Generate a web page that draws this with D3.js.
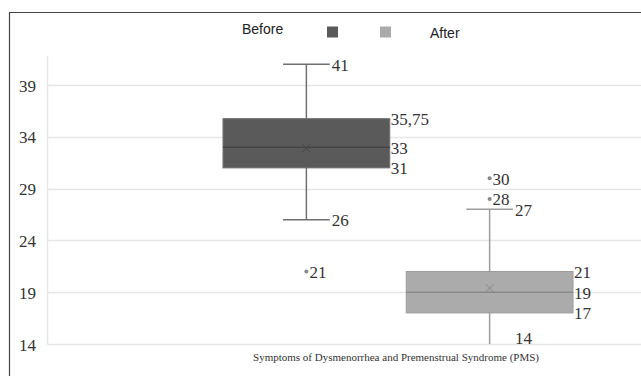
<!DOCTYPE html>
<html>
<head>
<meta charset="utf-8">
<script src="https://cdn.jsdelivr.net/npm/d3@7"></script>
<style>
  body { margin: 0; background: #fff; }
  svg { display: block; }
</style>
</head>
<body>
<script>
"use strict"

// Box plot summary
const groups      = ["Before", "After"]
const whiskerLow  = [26, 14]
const q1          = [31, 17]
const median      = [33, 19]
const q3          = [35.75, 21]
const whiskerHigh = [41, 27]
const means       = [32.9, 19.4]
const outliers    = [[21], [28, 30]]
const yTicks      = [14, 19, 24, 29, 34, 39]
const fills       = ["#5a5a5a", "#ababab"]
const strokes     = ["#707070", "#9c9c9c"]
const title       = "Symptoms of Dysmenorrhea and Premenstrual Syndrome (PMS)"

const fmt = v => String(v).replace(".", ",")

const width = 641, height = 376
const root = d3.select("body").append("svg").attr("width", width).attr("height", height)

const y = d3.scaleLinear().domain([14, 39]).range([344, 85])
const x = d3.scaleBand().domain(groups).range([223, 573]).paddingInner(0.09)
const plotLeft = 47

// frame
root.append("path")
  .attr("d", `M9.5,${height} V12.5 H${width}`)
  .attr("fill", "none").attr("stroke", "#444").attr("stroke-width", 1.2)

// gridlines + vertical axis line
root.append("g").selectAll("line").data(yTicks).join("line")
  .attr("x1", plotLeft).attr("x2", width)
  .attr("y1", d => Math.round(y(d)) + 0.5).attr("y2", d => Math.round(y(d)) + 0.5)
  .attr("stroke", "#e6e6e6").attr("stroke-width", 1.5)
root.append("line")
  .attr("x1", plotLeft + 0.5).attr("x2", plotLeft + 0.5)
  .attr("y1", 56).attr("y2", y(14))
  .attr("stroke", "#e6e6e6").attr("stroke-width", 1.5)

// tick labels
root.append("g").selectAll("text").data(yTicks).join("text")
  .attr("x", 36).attr("y", d => y(d) + 1)
  .attr("text-anchor", "end").attr("dominant-baseline", "central")
  .attr("font-family", "Liberation Serif, serif").attr("font-size", 17)
  .attr("fill", "#333").text(d => d)

// boxes
const rows = groups.map((g, i) => ({
  g, i, lo: whiskerLow[i], q1: q1[i], med: median[i], q3: q3[i], hi: whiskerHigh[i], mean: means[i], out: outliers[i],
}))

const bw = x.bandwidth()
const capW = bw * 0.28
const box = root.append("g").selectAll("g").data(rows).join("g")

box.append("line")
  .attr("x1", d => x(d.g) + bw / 2).attr("x2", d => x(d.g) + bw / 2)
  .attr("y1", d => y(d.lo)).attr("y2", d => y(d.hi))
  .attr("stroke", d => strokes[d.i]).attr("stroke-width", 1.5)
box.selectAll(".cap").data(d => [d.lo, d.hi].filter(v => v > 14).map(v => ({ v, d }))).join("line")
  .attr("class", "cap")
  .attr("x1", ({ d }) => x(d.g) + bw / 2 - capW / 2).attr("x2", ({ d }) => x(d.g) + bw / 2 + capW / 2)
  .attr("y1", ({ v }) => y(v)).attr("y2", ({ v }) => y(v))
  .attr("stroke", ({ d }) => strokes[d.i]).attr("stroke-width", 1.5)
box.append("rect")
  .attr("x", d => x(d.g)).attr("width", bw)
  .attr("y", d => y(d.q3)).attr("height", d => y(d.q1) - y(d.q3))
  .attr("fill", d => fills[d.i]).attr("stroke", d => strokes[d.i]).attr("stroke-width", 1)
box.append("line")
  .attr("x1", d => x(d.g)).attr("x2", d => x(d.g) + bw)
  .attr("y1", d => y(d.med)).attr("y2", d => y(d.med))
  .attr("stroke", (d, i) => i === 0 ? "#444" : "#8a8a8a").attr("stroke-width", 1.5)
box.append("path")
  .attr("d", d => {
    const cx = x(d.g) + bw / 2, cy = y(d.mean), r = 4
    return `M${cx - r},${cy - r}L${cx + r},${cy + r}M${cx - r},${cy + r}L${cx + r},${cy - r}`
  })
  .attr("stroke", (d, i) => i === 0 ? "#444" : "#8a8a8a").attr("stroke-width", 1)

// outliers
const out = box.selectAll(".out").data(d => d.out.map(v => ({ v, d }))).join("g").attr("class", "out")
out.append("circle")
  .attr("cx", ({ d }) => x(d.g) + bw / 2).attr("cy", ({ v }) => y(v))
  .attr("r", 2).attr("fill", "#888")

// value labels
const valueFont = sel => sel
  .attr("font-family", "Liberation Serif, serif").attr("font-size", 17)
  .attr("fill", "#333").attr("dominant-baseline", "central")

out.append("text")
  .attr("x", ({ d }) => x(d.g) + bw / 2 + 3).attr("y", ({ v }) => y(v) + 1)
  .call(valueFont).text(({ v }) => v)

box.selectAll(".whisk-label").data(d => [d.lo, d.hi].map(v => ({ v, d }))).join("text")
  .attr("class", "whisk-label")
  .attr("x", ({ d }) => x(d.g) + bw / 2 + capW / 2 + 2)
  .attr("y", ({ v }) => Math.min(y(v) + 1, y(14) - 6))
  .call(valueFont).text(({ v }) => fmt(v))

box.selectAll(".box-label").data(d => [d.q3, d.med, d.q1].map(v => ({ v, d }))).join("text")
  .attr("class", "box-label")
  .attr("x", ({ d }) => x(d.g) + bw + 1)
  .attr("y", ({ v }) => y(v) + 1)
  .call(valueFont).text(({ v }) => fmt(v))

// legend
const legend = root.append("g").attr("font-family", "Liberation Sans, Arial, sans-serif").attr("font-size", 14).attr("fill", "#222")
legend.append("text").attr("x", 242).attr("y", 29).attr("dominant-baseline", "central").text(groups[0])
legend.append("rect").attr("x", 327).attr("y", 26.5).attr("width", 11).attr("height", 11).attr("fill", fills[0])
legend.append("rect").attr("x", 380).attr("y", 26.5).attr("width", 11).attr("height", 11).attr("fill", fills[1])
legend.append("text").attr("x", 430).attr("y", 32.5).attr("dominant-baseline", "central").text(groups[1])

// category title
root.append("text")
  .attr("x", 396).attr("y", 357).attr("text-anchor", "middle").attr("dominant-baseline", "central")
  .attr("font-family", "Liberation Serif, serif").attr("font-size", 11).attr("fill", "#333")
  .text(title)
</script>
</body>
</html>
